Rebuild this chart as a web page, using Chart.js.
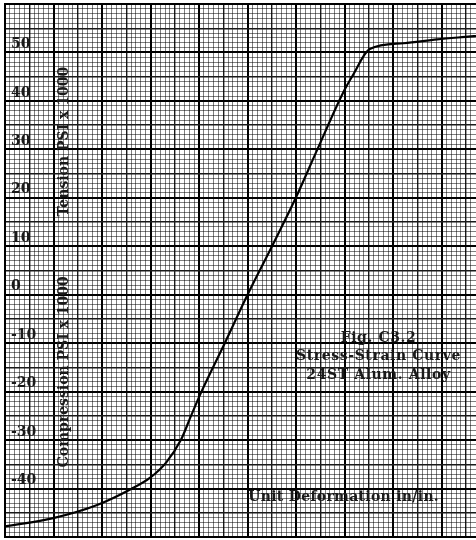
<!DOCTYPE html>
<html>
<head>
<meta charset="utf-8">
<script src="https://cdn.jsdelivr.net/npm/chart.js@4.4.1/dist/chart.umd.min.js"></script>
<style>
  html, body { margin: 0; padding: 0; background: #fff; }
  #wrap { width: 476px; height: 540px; }
</style>
</head>
<body>
<div id="wrap"><canvas id="c"></canvas></div>
<script>
// Unit deformation (in/in x 10^-3) and stress (PSI x 1000)
const strain = [-10.0, -8.01, -6.20, -4.80, -4.00, -3.35, -2.75, -2.33, -1.90, -0.94, 0.0, 1.01, 1.99, 2.88, 3.94, 4.33, 5.04, 6.44, 7.82, 9.20, 9.42];
const stress = [-47.8, -46.1, -43.4, -40.1, -37.7, -34.6, -30.0, -25.0, -20.0, -10.0, 0.0, 10.0, 20.0, 30.0, 41.7, 45.2, 50.7, 51.9, 52.7, 53.3, 53.4];

// Stress tick labels printed on the paper
const stressLabels = [50, 40, 30, 20, 10, 0, -10, -20, -30, -40];

// Axis range of the graph paper
const strainRange = [-10, 9.42];
const stressRange = [-50, 60];

// Texts written on the sheet
const tensionTitle = 'Tension PSI x 1000';
const compressionTitle = 'Compression PSI x 1000';
const figLines = ['Fig. C3.2', 'Stress-Strain Curve', '24ST Alum. Alloy'];
const xTitle = 'Unit Deformation in/in.';

const FONT = '"DejaVu Serif", "Liberation Serif", serif';

function gridStyle(kind) {
  if (kind === 'major') return { color: '#000', width: 2 };
  if (kind === 'half') return { color: '#1a1a1a', width: 1.4 };
  return { color: 'rgba(0,0,0,0.5)', width: 1 };
}
function yKind(v) {
  const n = Math.round(v);
  if (n % 10 === 0) return 'major';
  if (n % 5 === 0) return 'half';
  return 'minor';
}
function xKind(v) {
  const n = Math.round((v - strainRange[0]) * 5);
  if (n % 10 === 0) return 'major';
  if (n % 5 === 0) return 'half';
  return 'minor';
}
function flatten(scale) {
  if (scale.isHorizontal()) scale.height = 0; else scale.width = 0;
  scale.paddingTop = 0; scale.paddingBottom = 0;
  scale.paddingLeft = 0; scale.paddingRight = 0;
}

const sheetText = {
  id: 'sheetText',
  afterDatasetsDraw(chart) {
    const { ctx, scales: { x, y } } = chart;
    ctx.save();
    ctx.fillStyle = '#1a1a1a';
    ctx.font = 'bold 14px ' + FONT;
    ctx.textBaseline = 'middle';

    // vertical titles
    ctx.textAlign = 'center';
    ctx.letterSpacing = '0px';
    [[tensionTitle, 31.6], [compressionTitle, -15.9]].forEach(([t, v]) => {
      ctx.save();
      ctx.translate(x.getPixelForValue(-7.55), y.getPixelForValue(v));
      ctx.rotate(-Math.PI / 2);
      ctx.fillText(t, 0, 0);
      ctx.restore();
    });

    // figure caption
    ctx.letterSpacing = '0.6px';
    const figY = [-9.0, -12.75, -16.6];
    figLines.forEach((t, i) => {
      ctx.fillText(t, x.getPixelForValue(5.4), y.getPixelForValue(figY[i]));
    });

    // x title
    ctx.textAlign = 'left';
    ctx.letterSpacing = '0.3px';
    ctx.fillText(xTitle, x.getPixelForValue(0.03), y.getPixelForValue(-41.9));
    ctx.restore();
  }
};

new Chart(document.getElementById('c'), {
  type: 'scatter',
  data: {
    datasets: [{
      data: strain.map((s, i) => ({ x: s, y: stress[i] })),
      showLine: true,
      borderColor: '#000',
      borderWidth: 2.2,
      pointRadius: 0,
      cubicInterpolationMode: 'monotone',
      fill: false
    }]
  },
  options: {
    responsive: true,
    maintainAspectRatio: false,
    animation: false,
    events: [],
    layout: { padding: { left: 5, top: 4, right: 0, bottom: 3 } },
    plugins: { legend: { display: false }, tooltip: { enabled: false } },
    scales: {
      x: {
        type: 'linear',
        min: strainRange[0],
        max: strainRange[1],
        afterFit: flatten,
        border: { display: true, color: '#000', width: 2 },
        grid: {
          drawTicks: false,
          color: c => gridStyle(xKind(c.tick.value)).color,
          lineWidth: c => gridStyle(xKind(c.tick.value)).width
        },
        ticks: { display: false, stepSize: 0.2, autoSkip: false }
      },
      y: {
        type: 'linear',
        min: stressRange[0],
        max: stressRange[1],
        afterFit: flatten,
        border: { display: true, color: '#000', width: 2 },
        grid: {
          drawTicks: false,
          color: c => gridStyle(yKind(c.tick.value)).color,
          lineWidth: c => gridStyle(yKind(c.tick.value)).width
        },
        ticks: {
          stepSize: 1,
          autoSkip: false,
          mirror: true,
          padding: 6,
          labelOffset: -8,
          color: '#1a1a1a',
          font: { family: FONT, size: 14, weight: 'bold' },
          callback: v => stressLabels.includes(Math.round(v)) && Math.abs(v - Math.round(v)) < 1e-6 ? String(Math.round(v)) : ''
        }
      }
    }
  },
  plugins: [sheetText]
});
</script>
</body>
</html>
